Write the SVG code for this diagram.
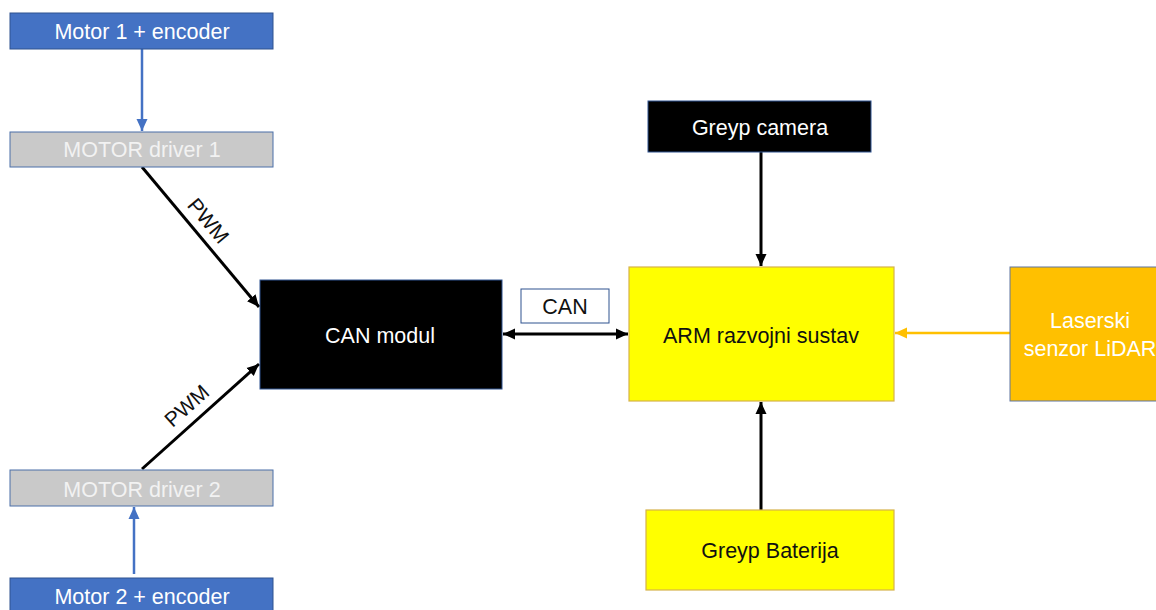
<svg xmlns="http://www.w3.org/2000/svg" width="1156" height="610" viewBox="0 0 1156 610">
<style>
text{font-family:"Liberation Sans",Arial,sans-serif;font-size:21.5px;text-anchor:middle}
.w{fill:#ffffff}.lg{fill:#f2f2f2}.k{fill:#111111}
.blue{fill:#4472c4;stroke:#2f528f;stroke-width:1}
.grey{fill:#c9c9c9;stroke:#4a6fa8;stroke-width:1}
.blk{fill:#000000;stroke:#2f528f;stroke-width:1}
.yel{fill:#ffff00;stroke:#d6b24a;stroke-width:1.2}
.org{fill:#ffc000;stroke:#5f74a0;stroke-width:1}
.lbl{fill:#ffffff;stroke:#2f528f;stroke-width:1}
.cb{stroke:#4472c4;stroke-width:2.5;fill:none}
.ck{stroke:#000000;stroke-width:3;fill:none}
.co{stroke:#ffc000;stroke-width:2.5;fill:none}
.pwm{font-size:21px}
</style>
<defs>
<marker id="ab" markerUnits="userSpaceOnUse" markerWidth="14" markerHeight="14" refX="12" refY="7" orient="auto"><path d="M0,1.5 L12,7 L0,12.5 z" fill="#4472c4"/></marker>
<marker id="ak" markerUnits="userSpaceOnUse" markerWidth="14" markerHeight="14" refX="12" refY="7" orient="auto"><path d="M0,1.5 L12,7 L0,12.5 z" fill="#000000"/></marker>
<marker id="aks" markerUnits="userSpaceOnUse" markerWidth="14" markerHeight="14" refX="1" refY="7" orient="auto"><path d="M13,1.5 L1,7 L13,12.5 z" fill="#000000"/></marker>
<marker id="ao" markerUnits="userSpaceOnUse" markerWidth="14" markerHeight="14" refX="12" refY="7" orient="auto"><path d="M0,1.5 L12,7 L0,12.5 z" fill="#ffc000"/></marker>
</defs>
<g id="connectors">
<line class="cb" x1="142" y1="49" x2="142" y2="131" marker-end="url(#ab)"/>
<line class="cb" x1="134" y1="574" x2="134" y2="507" marker-end="url(#ab)"/>
<line class="ck" x1="142" y1="167" x2="259" y2="307" marker-end="url(#ak)"/>
<line class="ck" x1="142" y1="469" x2="259" y2="364" marker-end="url(#ak)"/>
<line class="ck" x1="503" y1="334" x2="628" y2="334" marker-start="url(#aks)" marker-end="url(#ak)"/>
<line class="ck" x1="761" y1="152" x2="761" y2="266" marker-end="url(#ak)"/>
<line class="ck" x1="761" y1="510" x2="761" y2="402" marker-end="url(#ak)"/>
<line class="co" x1="1010" y1="333" x2="895" y2="333" marker-end="url(#ao)"/>
<text class="k pwm" transform="translate(208,221) rotate(50)" y="7">PWM</text>
<text class="k pwm" transform="translate(187,406) rotate(-42)" y="7">PWM</text>
</g>
<g id="motor1"><rect class="blue" x="10" y="13" width="263" height="36"/><text class="w" x="142" y="39">Motor 1 + encoder</text></g>
<g id="driver1"><rect class="grey" x="10" y="132" width="263" height="35"/><text class="lg" x="142" y="157">MOTOR driver 1</text></g>
<g id="driver2"><rect class="grey" x="10" y="470" width="263" height="36"/><text class="lg" x="142" y="497">MOTOR driver 2</text></g>
<g id="motor2"><rect class="blue" x="10" y="578" width="263" height="40"/><text class="w" x="142" y="604">Motor 2 + encoder</text></g>
<g id="canmodul"><rect class="blk" x="260" y="280" width="242" height="109"/><text class="w" x="380" y="343">CAN modul</text></g>
<g id="canlabel"><rect class="lbl" x="521" y="289" width="88" height="34"/><text class="k" x="565" y="314">CAN</text></g>
<g id="arm"><rect class="yel" x="629" y="267" width="265" height="134"/><text class="k" x="761" y="343">ARM razvojni sustav</text></g>
<g id="camera"><rect class="blk" x="648" y="101" width="223" height="51"/><text class="w" x="760" y="135">Greyp camera</text></g>
<g id="baterija"><rect class="yel" x="646" y="510" width="248" height="80"/><text class="k" x="770" y="558">Greyp Baterija</text></g>
<g id="lidar"><rect class="org" x="1010" y="267" width="160" height="134"/><text class="w" x="1090" y="328">Laserski</text><text class="w" x="1090" y="356">senzor LiDAR</text></g>
</svg>
